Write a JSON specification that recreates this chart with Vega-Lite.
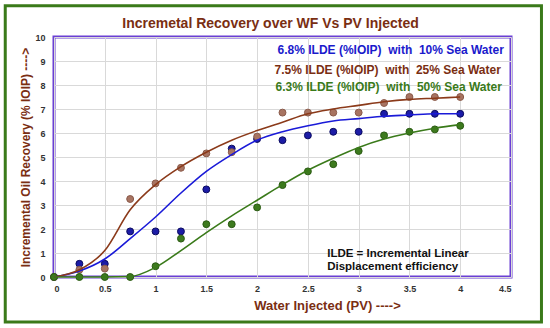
{
  "$schema": "https://vega.github.io/schema/vega-lite/v6.json",
  "width": 457,
  "height": 240,
  "autosize": {"type": "none"},
  "padding": {"left": 54, "top": 37, "right": 39, "bottom": 51},
  "background": "white",
  "config": {
    "view": {"stroke": "#6a3fd4", "strokeWidth": 3, "fill": "white"},
    "font": "Liberation Sans",
    "axisX": {
      "ticks": false, "domain": false, "tickCount": 9, "labelOverlap": false,
      "labelFont": "Liberation Sans", "labelFontSize": 9, "labelFontWeight": "bold", "labelColor": "#333333", "labelPadding": 7,
      "gridColor": "#d9d9d9",
      "titleFont": "Liberation Sans", "titleFontSize": 13, "titleFontWeight": "bold", "titleColor": "#7a2e12", "titlePadding": 6
    },
    "axisY": {
      "ticks": false, "domain": false, "tickCount": 10, "labelOverlap": false,
      "labelFont": "Liberation Sans", "labelFontSize": 9, "labelFontWeight": "bold", "labelColor": "#333333", "labelPadding": 9,
      "gridColor": "#d9d9d9",
      "titleFont": "Liberation Sans", "titleFontSize": 12, "titleFontWeight": "bold", "titleColor": "#7a2e12", "titlePadding": 2
    }
  },
  "title": {
    "text": "Incremetal Recovery over WF Vs PV Injected",
    "font": "Liberation Sans",
    "fontSize": 14,
    "fontWeight": "bold",
    "color": "#7a2e12",
    "anchor": "middle",
    "dx": -12,
    "offset": -27
  },
  "datasets": {
    "pts": [
      {"pv": 0, "rec": 0, "series": "10% Sea Water"},
      {"pv": 0.25, "rec": 0.55, "series": "10% Sea Water"},
      {"pv": 0.5, "rec": 0.55, "series": "10% Sea Water"},
      {"pv": 0.75, "rec": 1.9, "series": "10% Sea Water"},
      {"pv": 1.0, "rec": 1.9, "series": "10% Sea Water"},
      {"pv": 1.25, "rec": 1.9, "series": "10% Sea Water"},
      {"pv": 1.5, "rec": 3.65, "series": "10% Sea Water"},
      {"pv": 1.75, "rec": 5.35, "series": "10% Sea Water"},
      {"pv": 2.0, "rec": 5.75, "series": "10% Sea Water"},
      {"pv": 2.25, "rec": 5.7, "series": "10% Sea Water"},
      {"pv": 2.5, "rec": 5.9, "series": "10% Sea Water"},
      {"pv": 2.75, "rec": 6.05, "series": "10% Sea Water"},
      {"pv": 3.0, "rec": 6.05, "series": "10% Sea Water"},
      {"pv": 3.25, "rec": 6.8, "series": "10% Sea Water"},
      {"pv": 3.5, "rec": 6.8, "series": "10% Sea Water"},
      {"pv": 3.75, "rec": 6.8, "series": "10% Sea Water"},
      {"pv": 4.0, "rec": 6.8, "series": "10% Sea Water"},
      {"pv": 0, "rec": 0, "series": "25% Sea Water"},
      {"pv": 0.25, "rec": 0.3, "series": "25% Sea Water"},
      {"pv": 0.5, "rec": 0.35, "series": "25% Sea Water"},
      {"pv": 0.75, "rec": 3.25, "series": "25% Sea Water"},
      {"pv": 1.0, "rec": 3.9, "series": "25% Sea Water"},
      {"pv": 1.25, "rec": 4.55, "series": "25% Sea Water"},
      {"pv": 1.5, "rec": 5.15, "series": "25% Sea Water"},
      {"pv": 1.75, "rec": 5.2, "series": "25% Sea Water"},
      {"pv": 2.0, "rec": 5.85, "series": "25% Sea Water"},
      {"pv": 2.25, "rec": 6.85, "series": "25% Sea Water"},
      {"pv": 2.5, "rec": 6.85, "series": "25% Sea Water"},
      {"pv": 2.75, "rec": 6.85, "series": "25% Sea Water"},
      {"pv": 3.0, "rec": 6.85, "series": "25% Sea Water"},
      {"pv": 3.25, "rec": 7.25, "series": "25% Sea Water"},
      {"pv": 3.5, "rec": 7.5, "series": "25% Sea Water"},
      {"pv": 3.75, "rec": 7.5, "series": "25% Sea Water"},
      {"pv": 4.0, "rec": 7.5, "series": "25% Sea Water"},
      {"pv": 0, "rec": 0, "series": "50% Sea Water"},
      {"pv": 0.25, "rec": 0, "series": "50% Sea Water"},
      {"pv": 0.5, "rec": 0, "series": "50% Sea Water"},
      {"pv": 0.75, "rec": 0, "series": "50% Sea Water"},
      {"pv": 1.0, "rec": 0.45, "series": "50% Sea Water"},
      {"pv": 1.25, "rec": 1.6, "series": "50% Sea Water"},
      {"pv": 1.5, "rec": 2.2, "series": "50% Sea Water"},
      {"pv": 1.75, "rec": 2.2, "series": "50% Sea Water"},
      {"pv": 2.0, "rec": 2.9, "series": "50% Sea Water"},
      {"pv": 2.25, "rec": 3.83, "series": "50% Sea Water"},
      {"pv": 2.5, "rec": 4.4, "series": "50% Sea Water"},
      {"pv": 2.75, "rec": 4.7, "series": "50% Sea Water"},
      {"pv": 3.0, "rec": 5.25, "series": "50% Sea Water"},
      {"pv": 3.25, "rec": 5.9, "series": "50% Sea Water"},
      {"pv": 3.5, "rec": 6.05, "series": "50% Sea Water"},
      {"pv": 3.75, "rec": 6.15, "series": "50% Sea Water"},
      {"pv": 4.0, "rec": 6.3, "series": "50% Sea Water"}
    ],
    "fit": [
      {"pv": 0, "rec": 0, "series": "10% Sea Water"},
      {"pv": 0.25, "rec": 0.25, "series": "10% Sea Water"},
      {"pv": 0.5, "rec": 0.75, "series": "10% Sea Water"},
      {"pv": 0.75, "rec": 1.6, "series": "10% Sea Water"},
      {"pv": 1.0, "rec": 2.5, "series": "10% Sea Water"},
      {"pv": 1.25, "rec": 3.5, "series": "10% Sea Water"},
      {"pv": 1.5, "rec": 4.4, "series": "10% Sea Water"},
      {"pv": 1.75, "rec": 5.1, "series": "10% Sea Water"},
      {"pv": 2.0, "rec": 5.7, "series": "10% Sea Water"},
      {"pv": 2.25, "rec": 6.05, "series": "10% Sea Water"},
      {"pv": 2.5, "rec": 6.3, "series": "10% Sea Water"},
      {"pv": 2.75, "rec": 6.5, "series": "10% Sea Water"},
      {"pv": 3.0, "rec": 6.6, "series": "10% Sea Water"},
      {"pv": 3.25, "rec": 6.7, "series": "10% Sea Water"},
      {"pv": 3.5, "rec": 6.75, "series": "10% Sea Water"},
      {"pv": 3.75, "rec": 6.8, "series": "10% Sea Water"},
      {"pv": 4.0, "rec": 6.8, "series": "10% Sea Water"},
      {"pv": 0, "rec": 0, "series": "25% Sea Water"},
      {"pv": 0.25, "rec": 0.3, "series": "25% Sea Water"},
      {"pv": 0.5, "rec": 1.1, "series": "25% Sea Water"},
      {"pv": 0.75, "rec": 2.8, "series": "25% Sea Water"},
      {"pv": 1.0, "rec": 3.85, "series": "25% Sea Water"},
      {"pv": 1.25, "rec": 4.6, "series": "25% Sea Water"},
      {"pv": 1.5, "rec": 5.2, "series": "25% Sea Water"},
      {"pv": 1.75, "rec": 5.7, "series": "25% Sea Water"},
      {"pv": 2.0, "rec": 6.1, "series": "25% Sea Water"},
      {"pv": 2.25, "rec": 6.45, "series": "25% Sea Water"},
      {"pv": 2.5, "rec": 6.8, "series": "25% Sea Water"},
      {"pv": 2.75, "rec": 7.0, "series": "25% Sea Water"},
      {"pv": 3.0, "rec": 7.15, "series": "25% Sea Water"},
      {"pv": 3.25, "rec": 7.3, "series": "25% Sea Water"},
      {"pv": 3.5, "rec": 7.4, "series": "25% Sea Water"},
      {"pv": 3.75, "rec": 7.45, "series": "25% Sea Water"},
      {"pv": 4.0, "rec": 7.5, "series": "25% Sea Water"},
      {"pv": 0, "rec": 0, "series": "50% Sea Water"},
      {"pv": 0.25, "rec": 0, "series": "50% Sea Water"},
      {"pv": 0.5, "rec": 0, "series": "50% Sea Water"},
      {"pv": 0.75, "rec": 0.02, "series": "50% Sea Water"},
      {"pv": 1.0, "rec": 0.4, "series": "50% Sea Water"},
      {"pv": 1.25, "rec": 1.1, "series": "50% Sea Water"},
      {"pv": 1.5, "rec": 1.85, "series": "50% Sea Water"},
      {"pv": 1.75, "rec": 2.55, "series": "50% Sea Water"},
      {"pv": 2.0, "rec": 3.2, "series": "50% Sea Water"},
      {"pv": 2.25, "rec": 3.85, "series": "50% Sea Water"},
      {"pv": 2.5, "rec": 4.45, "series": "50% Sea Water"},
      {"pv": 2.75, "rec": 4.95, "series": "50% Sea Water"},
      {"pv": 3.0, "rec": 5.4, "series": "50% Sea Water"},
      {"pv": 3.25, "rec": 5.75, "series": "50% Sea Water"},
      {"pv": 3.5, "rec": 6.0, "series": "50% Sea Water"},
      {"pv": 3.75, "rec": 6.2, "series": "50% Sea Water"},
      {"pv": 4.0, "rec": 6.35, "series": "50% Sea Water"}
    ]
  },
  "layer": [
    {
      "data": {"name": "pts"},
      "mark": {"type": "point", "filled": true, "size": 48, "opacity": 1, "strokeWidth": 1},
      "encoding": {
        "x": {
          "field": "pv", "type": "quantitative",
          "scale": {"domain": [0, 4.5], "nice": false},
          "axis": {"title": "Water Injected (PV) ---->", "format": "~g", "titleX": 273}
        },
        "y": {
          "field": "rec", "type": "quantitative",
          "scale": {"domain": [0, 10], "nice": false},
          "axis": {"title": "Incremental Oil Recovery (% IOIP) ---->"}
        },
        "fill": {
          "field": "series", "type": "nominal",
          "scale": {"domain": ["10% Sea Water", "25% Sea Water", "50% Sea Water"], "range": ["#1c1ca6", "#a87462", "#3d7a1e"]},
          "legend": null
        },
        "stroke": {
          "field": "series", "type": "nominal",
          "scale": {"domain": ["10% Sea Water", "25% Sea Water", "50% Sea Water"], "range": ["#0a0a60", "#8a5a4a", "#2a5a12"]},
          "legend": null
        }
      }
    },
    {
      "data": {"name": "fit"},
      "mark": {"type": "line", "interpolate": "monotone", "strokeWidth": 1.6},
      "encoding": {
        "x": {"field": "pv", "type": "quantitative"},
        "y": {"field": "rec", "type": "quantitative"},
        "color": {
          "field": "series", "type": "nominal",
          "scale": {"domain": ["10% Sea Water", "25% Sea Water", "50% Sea Water"], "range": ["#1a1ad8", "#8b3a1a", "#3a7a1a"]},
          "legend": null
        }
      }
    },
    {
      "data": {"values": [{"name": "frame"}]},
      "mark": {"type": "rect", "clip": false, "fillOpacity": 0, "fill": "white", "stroke": "#3a7a1a", "strokeWidth": 3},
      "encoding": {
        "x": {"datum": -0.48, "type": "quantitative"},
        "x2": {"datum": 4.8},
        "y": {"datum": 11.3, "type": "quantitative"},
        "y2": {"datum": -1.88}
      }
    },
    {
      "data": {"values": [{"label": "6.8% ILDE (%IOIP)  \u00a0with \u00a010% Sea Water"}]},
      "mark": {"type": "text", "align": "right", "baseline": "middle", "font": "Liberation Sans", "fontSize": 12, "fontWeight": "bold", "fill": "#1a1acc"},
      "encoding": {"text": {"field": "label"}, "x": {"datum": 4.43, "type": "quantitative"}, "y": {"datum": 9.46, "type": "quantitative"}}
    },
    {
      "data": {"values": [{"label": "7.5% ILDE (%IOIP) \u00a0with \u00a025% Sea Water"}]},
      "mark": {"type": "text", "align": "right", "baseline": "middle", "font": "Liberation Sans", "fontSize": 12, "fontWeight": "bold", "fill": "#7a2e12"},
      "encoding": {"text": {"field": "label"}, "x": {"datum": 4.4, "type": "quantitative"}, "y": {"datum": 8.63, "type": "quantitative"}}
    },
    {
      "data": {"values": [{"label": "6.3% ILDE (%IOIP) \u00a0with \u00a050% Sea Water"}]},
      "mark": {"type": "text", "align": "right", "baseline": "middle", "font": "Liberation Sans", "fontSize": 12, "fontWeight": "bold", "fill": "#3a7a1a"},
      "encoding": {"text": {"field": "label"}, "x": {"datum": 4.41, "type": "quantitative"}, "y": {"datum": 7.92, "type": "quantitative"}}
    },
    {
      "data": {"values": [{"label": "ILDE = Incremental Linear"}]},
      "mark": {"type": "text", "align": "left", "baseline": "middle", "font": "Liberation Sans", "fontSize": 11.5, "fontWeight": "bold", "fill": "#111111"},
      "encoding": {"text": {"field": "label"}, "x": {"datum": 2.69, "type": "quantitative"}, "y": {"datum": 0.96, "type": "quantitative"}}
    },
    {
      "data": {"values": [{"label": "Displacement efficiency"}]},
      "mark": {"type": "text", "align": "left", "baseline": "middle", "font": "Liberation Sans", "fontSize": 11.5, "fontWeight": "bold", "fill": "#111111"},
      "encoding": {"text": {"field": "label"}, "x": {"datum": 2.69, "type": "quantitative"}, "y": {"datum": 0.42, "type": "quantitative"}}
    }
  ]
}
